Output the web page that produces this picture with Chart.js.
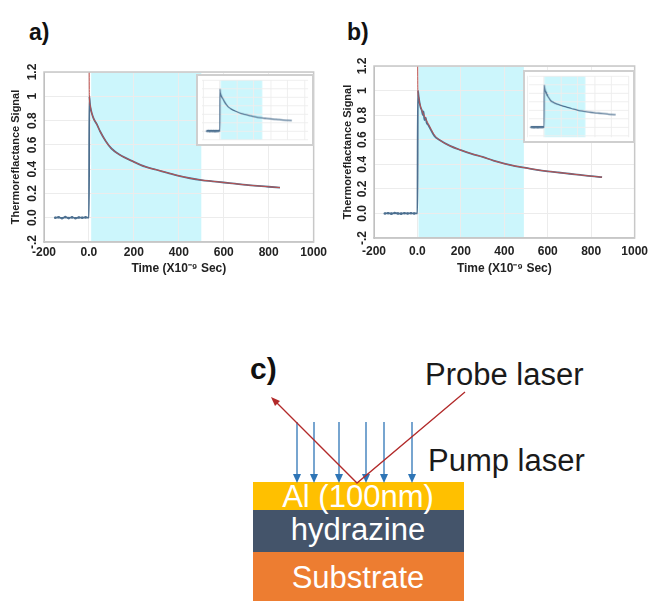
<!DOCTYPE html>
<html>
<head>
<meta charset="utf-8">
<script src="https://cdn.jsdelivr.net/npm/chart.js@4.4.0/dist/chart.umd.min.js"></script>
<style>
body{margin:0;background:#fff;width:654px;height:601px;position:relative;overflow:hidden;font-family:"Liberation Sans",Arial,sans-serif;}
canvas,svg,.lbl{position:absolute;}
.lbl{font-weight:bold;font-size:23px;color:#111;}
.inset{border:2px solid #cfcfcf;background:#fff;}
</style>
</head>
<body>
<div class="lbl" style="left:29px;top:19px">a)</div>
<div class="lbl" style="left:347px;top:19px">b)</div>

<svg width="654" height="601" style="left:0;top:0" font-family="Liberation Sans, Arial, sans-serif">
  <text x="250" y="379" font-size="30" font-weight="bold" fill="#111">c)</text>
  <text x="425" y="385" font-size="31" fill="#1a1a1a">Probe laser</text>
  <text x="428" y="471" font-size="31" fill="#1a1a1a">Pump laser</text>
  <rect x="253" y="482" width="211" height="28" fill="#FFC000"/>
  <rect x="253" y="510" width="211" height="42" fill="#44546A"/>
  <rect x="253" y="552" width="211" height="49" fill="#ED7D31"/>
  <g id="pump" stroke="#2E75B6" fill="#2E75B6"></g>
  <polyline points="465,392 357,483 276,402" fill="none" stroke="#b22a2a" stroke-width="1.3"/>
  <polygon points="271,397 280,401 275,406" fill="#b22a2a"/>
  <text x="358" y="507" text-anchor="middle" font-size="31" fill="#fff">Al (100nm)</text>
  <text x="358" y="540" text-anchor="middle" font-size="31" fill="#fff">hydrazine</text>
  <text x="358" y="588" text-anchor="middle" font-size="31" fill="#fff">Substrate</text>
</svg>

<canvas id="chartA" width="330" height="230" style="left:0;top:50px"></canvas>
<canvas id="chartB" width="324" height="230" style="left:330px;top:50px"></canvas>
<canvas id="insetA" class="inset" width="118" height="72" style="left:196px;top:74px"></canvas>
<canvas id="insetB" class="inset" width="112" height="73" style="left:523px;top:70px"></canvas>

<script>
// axis ticks
const xTickValues = [-200, 0, 200, 400, 600, 800, 1000];
const xTickLabels = ['-200', '0.0', '200', '400', '600', '800', '1000'];
const yTickValues = [-0.2, 0, 0.2, 0.4, 0.6, 0.8, 1, 1.2];
const yTickLabels = ['-.2', '0.0', '0.2', '0.4', '0.6', '0.8', '1', '1.2'];

// a) measured signal
const timeA = [-150,-135,-120,-105,-90,-75,-60,-45,-30,-15,0,2,5,10,20,35,50,75,100,135,200,250,300,350,400,450,500,550,600,650,700,750,800,850];
const signalA = [0,0.004,-0.004,0.005,-0.003,0.003,-0.004,0.002,0,0.003,0,1.0,0.93,0.88,0.82,0.77,0.71,0.63,0.57,0.52,0.46,0.42,0.395,0.37,0.345,0.325,0.31,0.30,0.29,0.28,0.27,0.262,0.255,0.248];
// a) fit
const fitTimeA = [0,2,5,10,20,35,50,75,100,135,200,250,300,350,400,450,500,550,600,650,700,750,800,850];
const fitA = [1.6,1.0,0.93,0.88,0.82,0.77,0.71,0.63,0.57,0.52,0.46,0.42,0.395,0.37,0.345,0.325,0.31,0.30,0.29,0.28,0.27,0.262,0.255,0.248];
const shadeA = [10, 500];

// b) measured signal
const timeB = [-150,-135,-120,-105,-90,-75,-60,-45,-30,-15,0,2,5,10,15,20,25,28,32,38,42,50,78,100,150,200,250,300,350,400,450,500,550,600,650,700,750,800,850];
const signalB = [0,0.002,-0.002,0.003,0,-0.002,0.002,0,0.002,0,0,1.0,0.96,0.9,0.86,0.84,0.80,0.83,0.76,0.78,0.74,0.72,0.63,0.60,0.55,0.515,0.485,0.46,0.43,0.405,0.385,0.37,0.355,0.343,0.333,0.323,0.313,0.303,0.295];
// b) fit
const fitTimeB = [0,2,5,10,20,30,50,78,100,150,200,250,300,350,400,450,500,550,600,650,700,750,800,850];
const fitB = [1.6,1.0,0.95,0.9,0.84,0.8,0.73,0.64,0.60,0.55,0.515,0.485,0.46,0.43,0.405,0.385,0.37,0.355,0.343,0.333,0.323,0.313,0.303,0.295];
const shadeB = [5, 490];

// pump laser arrows
const pumpX = [297, 314, 339, 366, 384, 412];
const g = document.getElementById('pump');
pumpX.forEach(x => {
  g.innerHTML += `<line x1="${x}" y1="422" x2="${x}" y2="476" stroke-width="1.3"/>` +
    `<polygon points="${x-4},474 ${x+4},474 ${x},483" stroke="none"/>`;
});

const shadePlugin = {
  id: 'shade',
  beforeDraw(chart, args, opts) {
    const {ctx, chartArea, scales} = chart;
    const x1 = scales.x.getPixelForValue(opts.from);
    const x2 = scales.x.getPixelForValue(opts.to);
    ctx.save();
    ctx.fillStyle = '#ccf6fc';
    ctx.fillRect(x1, chartArea.top, x2 - x1, chartArea.bottom - chartArea.top);
    ctx.restore();
  }
};

const framePlugin = {
  id: 'frame',
  afterDraw(chart) {
    const {ctx, chartArea: a} = chart;
    ctx.save();
    ctx.strokeStyle = '#c8c8c8'; ctx.lineWidth = 1.5;
    ctx.strokeRect(a.left, a.top, a.right - a.left, a.bottom - a.top);
    ctx.restore();
  }
};

const fam = '"Liberation Sans", Arial, sans-serif';
const tickFont = {family: fam, size: 12, weight: 'bold'};
const titleFont = {family: fam, size: 12, weight: 'bold'};
const yTitleFont = {family: fam, size: 11, weight: 'bold'};

function pts(t, v) { return t.map((x, i) => ({x: x, y: v[i]})); }

function datasets(t, v, ft, fv, w, showFit) {
  const ds = [
    {data: pts(t, v), order: 2, borderColor: '#4d7090', borderWidth: w, pointRadius: c => (c.raw && c.raw.x < 0 ? 1.3 : 0),
     pointBackgroundColor: '#4d7090', pointBorderWidth: 0, cubicInterpolationMode: 'monotone'}
  ];
  if (showFit) {
    ds.push({data: pts(ft, fv), order: 1, borderColor: '#c0504d', borderWidth: w * 0.55, pointRadius: 0, cubicInterpolationMode: 'monotone'});
  }
  return ds;
}

function mainChart(id, t, v, ft, fv, shade, o) {
  new Chart(document.getElementById(id), {
    type: 'line',
    data: {datasets: datasets(t, v, ft, fv, 1.8, true)},
    plugins: [shadePlugin, framePlugin],
    options: {
      responsive: false, animation: false,
      layout: {padding: {left: o.left, top: o.top, right: 12, bottom: 0}},
      plugins: {legend: {display: false}, tooltip: {enabled: false}, shade: {from: shade[0], to: shade[1]}},
      scales: {
        x: {
          type: 'linear', min: -200, max: 1000,
          afterBuildTicks: s => { s.ticks = xTickValues.map(x => ({value: x})); },
          afterFit: s => { s.height = o.xh; },
          ticks: {callback: (val, i) => xTickLabels[i], font: tickFont, color: '#222', padding: o.xpad, maxRotation: 0},
          grid: {color: '#ececec', drawTicks: false},
          border: {color: '#c4c4c4', width: 1.5},
          title: {display: true, text: 'Time (X10\u207B\u2079 Sec)', font: titleFont, color: '#222', padding: {top: 2, bottom: 4}}
        },
        y: {
          type: 'linear', min: -0.2, max: 1.2,
          afterBuildTicks: s => { s.ticks = yTickValues.map(y => ({value: y})); },
          afterFit: s => { s.width = o.yw; },
          ticks: {callback: (val, i) => yTickLabels[i], font: tickFont, color: '#222', padding: 3, minRotation: 90, maxRotation: 90, crossAlign: 'center'},
          grid: {color: '#ececec', drawTicks: false},
          border: {color: '#a8a8a8', width: 1},
          title: {display: true, text: 'Thermoreflactance Signal', font: yTitleFont, color: '#222', padding: {top: 2, bottom: 2}}
        }
      }
    }
  });
}

function insetChart(id, t, v, ft, fv, shade, r) {
  new Chart(document.getElementById(id), {
    type: 'line',
    data: {datasets: datasets(t, v, ft, fv, 1.3, false)},
    plugins: [shadePlugin],
    options: {
      responsive: false, animation: false,
      layout: {padding: 0},
      plugins: {legend: {display: false}, tooltip: {enabled: false}, shade: {from: shade[0], to: shade[1]}},
      scales: {
        x: {type: 'linear', min: r[0], max: r[1],
            afterBuildTicks: s => { s.ticks = xTickValues.map(x => ({value: x})); },
            ticks: {display: false}, grid: {color: '#eeeeee', drawTicks: false}, border: {display: false}},
        y: {type: 'linear', min: r[2], max: r[3],
            afterBuildTicks: s => { s.ticks = yTickValues.map(y => ({value: y})); },
            ticks: {display: false}, grid: {color: '#eeeeee', drawTicks: false}, border: {display: false}}
      }
    }
  });
}

mainChart('chartA', timeA, signalA, fitTimeA, fitA, shadeA, {left: 7, top: 22, yw: 37, xh: 38, xpad: 3});
mainChart('chartB', timeB, signalB, fitTimeB, fitB, shadeB, {left: 9, top: 16, yw: 35, xh: 42, xpad: 6});
insetChart('insetA', timeA, signalA, fitTimeA, fitA, shadeA, [-213, 1043, -0.22, 1.22]);
insetChart('insetB', timeB, signalB, fitTimeB, fitB, shadeB, [-181, 1011, -0.24, 1.22]);
</script>
</body>
</html>
